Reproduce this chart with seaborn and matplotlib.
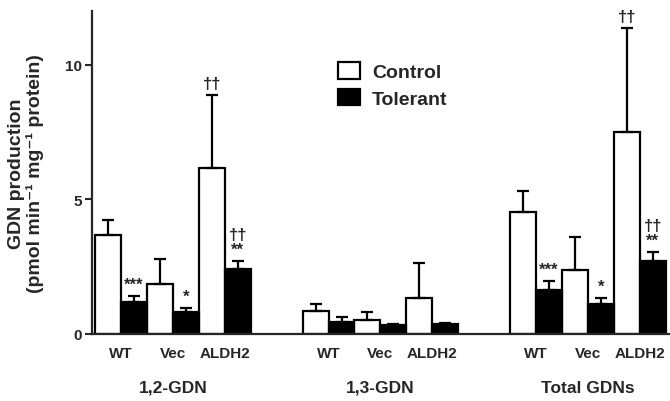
import pandas as pd
import matplotlib
matplotlib.use("Agg")
import matplotlib.pyplot as plt
import seaborn as sns

# data (means and upper SEM)
groups = ["1,2-GDN", "1,3-GDN", "Total GDNs"]
lines = ["WT", "Vec", "ALDH2"]
control_mean = [3.68, 1.86, 6.17, 0.86, 0.53, 1.34, 4.54, 2.38, 7.50]
control_err = [0.56, 0.93, 2.71, 0.26, 0.29, 1.30, 0.76, 1.22, 3.87]
tolerant_mean = [1.19, 0.82, 2.42, 0.45, 0.33, 0.37, 1.64, 1.12, 2.71]
tolerant_err = [0.22, 0.15, 0.29, 0.18, 0.03, 0.03, 0.33, 0.22, 0.34]
control_marks = ["", "", "††", "", "", "", "", "", "††"]
tolerant_marks = ["***", "*", "††\n**", "", "", "", "***", "*", "††\n**"]

keys = [g + "|" + l for g in groups for l in lines]
df = pd.DataFrame({
    "key": keys * 2,
    "condition": ["Control"] * 9 + ["Tolerant"] * 9,
    "value": control_mean + tolerant_mean,
    "err": control_err + tolerant_err,
    "mark": control_marks + tolerant_marks,
})

# empty slots between the three groups
order = keys[0:3] + ["gap1"] + keys[3:6] + ["gap2"] + keys[6:9]

sns.set_style("ticks")
plt.rcParams["font.family"] = ["Liberation Sans", "DejaVu Sans"]
plt.rcParams["font.weight"] = "bold"

fig = plt.figure(figsize=(6.7, 4.02), dpi=100)
ax = fig.add_axes([92 / 670, 67 / 402, 578 / 670, 323 / 402])

sns.barplot(
    data=df,
    x="key",
    y="value",
    hue="condition",
    order=order,
    hue_order=["Control", "Tolerant"],
    palette={"Control": "white", "Tolerant": "black"},
    edgecolor="black",
    linewidth=1.6,
    width=1.0,
    errorbar=None,
    ax=ax,
)

# error bars (upper only) + significance marks
for cond, cont in zip(["Control", "Tolerant"], ax.containers):
    for bar in cont:
        xc = bar.get_x() + bar.get_width() / 2
        key = order[int(round(xc))]
        row = df[(df["key"] == key) & (df["condition"] == cond)].iloc[0]
        top = row["value"] + row["err"]
        ax.errorbar(xc, row["value"], yerr=[[0], [row["err"]]], fmt="none",
                    ecolor="black", elinewidth=1.6, capsize=4, capthick=1.6)
        if row["mark"]:
            ax.annotate(row["mark"], xy=(xc, top), xytext=(0, 3),
                        textcoords="offset points", ha="center", va="bottom",
                        fontsize=12, fontweight="bold", linespacing=0.95)

ax.set_xlim(-0.558, 10.58)
ax.set_ylim(0, 12)
ax.set_yticks([0, 5, 10])
ax.tick_params(axis="y", length=5, width=1.5, labelsize=11, pad=2)
tick_pos = [order.index(k) for k in keys]
ax.set_xticks(tick_pos)
ax.set_xticklabels(lines * 3, fontsize=11, fontweight="bold")
ax.tick_params(axis="x", length=0, pad=9)
ax.set_xlabel("")

for g in groups:
    xg = order.index(g + "|Vec")
    ax.text(xg, -0.165, g, transform=ax.get_xaxis_transform(),
            ha="center", va="center", fontsize=12.5, fontweight="bold")

ax.set_ylabel("GDN production\n(pmol min⁻¹ mg⁻¹ protein)",
              fontsize=14, fontweight="bold", linespacing=1.05)
ax.yaxis.set_label_coords(-0.083, 0.5)

sns.despine(ax=ax)
ax.spines["left"].set_linewidth(1.6)
ax.spines["bottom"].set_linewidth(1.6)

sns.move_legend(
    ax, "upper left",
    bbox_to_anchor=(0.426, 0.842),
    title=None,
    frameon=False,
    fontsize=14,
    handlelength=1.13,
    handleheight=0.93,
    handletextpad=0.6,
    labelspacing=0.4,
    borderpad=0,
    borderaxespad=0,
)

fig.savefig("out.png", dpi=100)
